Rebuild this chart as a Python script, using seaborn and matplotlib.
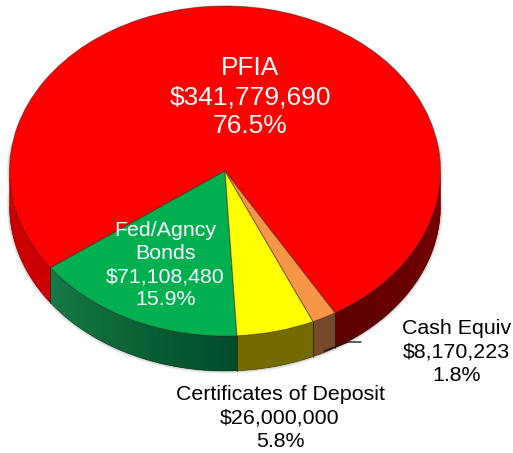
import numpy as np
import seaborn as sns
import matplotlib.pyplot as plt

# holdings
categories = ['PFIA', 'Fed/Agncy\nBonds', 'Certificates of Deposit', 'Cash Equiv']
amounts = [341779690, 71108480, 26000000, 8170223]
amount_labels = ['$341,779,690', '$71,108,480', '$26,000,000', '$8,170,223']
pct_labels = ['76.5%', '15.9%', '5.8%', '1.8%']

top_colors = ['#ff0000', '#00b050', '#ffff00', '#f79646']
wall_colors = [('#cc0000', '#cc0000'), ('#157a46', '#004a28'),
               ('#736a00', '#736a00'), ('#75492a', '#75492a')]
red_right_wall = ('#5c0000', '#7a0000')

# pixel layout of the picture
W, H = 513, 453
CX, CY, RX, RY, DEPTH = 225, 171, 215.5, 165, 35

sns.set_theme(style='white')
plt.rcParams['font.family'] = ['Liberation Sans', 'DejaVu Sans']

fig = plt.figure(figsize=(W / 100, H / 100), dpi=100)
ax = fig.add_axes([0, 0, 1, 1])

wedges, _ = ax.pie(amounts, colors=top_colors, startangle=300.7, radius=1,
                   wedgeprops={'edgecolor': (0.25, 0.1, 0.1, 0.55), 'linewidth': 0.7, 'zorder': 5})
ax.set_aspect('auto')
ax.set_xlim(-CX / RX, (W - CX) / RX)
ax.set_ylim((CY - H) / RY, CY / RY)
ax.axis('off')

dz = DEPTH / RY


def wall_quad(a, b):
    t = np.radians([a, b])
    x = np.cos(t)
    y = np.sin(t)
    return [x[0], x[1], x[1], x[0]], [y[0], y[1], y[1] - dz, y[0] - dz]


# soft shadow below the side wall
for grow, alpha in [(3, 0.05), (2, 0.07), (1, 0.1)]:
    t = np.radians(np.arange(170, 371, 1.0))
    x = np.cos(t) * (1 + grow / RX)
    y = np.sin(t) * (1 + grow / RY) - dz
    ax.fill(np.r_[x, x[::-1]], np.r_[y, np.sin(t[::-1])], color='k', alpha=alpha, lw=0, zorder=1)

# side wall, shaded along each slice
for i, w in enumerate(wedges):
    steps = np.arange(w.theta1, w.theta2, 0.5)
    front = [a for a in steps if np.sin(np.radians(a + 0.25)) < 0]
    for a in front:
        start, end = wall_colors[i]
        if i == 0 and a % 360 > 270:
            start, end = red_right_wall
        ramp = sns.blend_palette([start, end], 41)
        lo, hi = front[0], front[-1] + 0.5
        if i == 0:
            lo, hi = (300.7, 360) if a % 360 > 270 else (180, 216.1)
        pos = (a % 360 - lo) / (hi - lo) if i == 0 else (a - lo) / (hi - lo)
        c = ramp[int(np.clip(pos, 0, 1) * 40)]
        # overlap the next strip so no seams show
        b = a + 1.5
        if b > w.theta2:
            b = w.theta2
        if a % 360 < 360 and (a % 360) + 1.5 > 360:
            b = a + (360 - a % 360)
        xs, ys = wall_quad(a, b)
        ax.fill(xs, ys, color=c, lw=0, zorder=2)
    # dark seam where the slice starts on the wall
    for a in (w.theta1, w.theta2):
        if np.sin(np.radians(a)) < 0:
            xa, ya = np.cos(np.radians(a)), np.sin(np.radians(a))
            ax.plot([xa, xa], [ya, ya - dz], color='#2a1a10', lw=0.6, alpha=0.6, zorder=3)

# outline at the bottom of the wall
t = np.radians(np.arange(180, 360.5, 0.5))
ax.plot(np.cos(t), np.sin(t) - dz, color='#301010', lw=0.5, alpha=0.4, zorder=3)


def to_x(px):
    return (px - CX) / RX


def to_y(py):
    return (CY - py) / RY


# labels
label_pos = [(250.5, 97), (165.5, 265), (280, 418), (456.5, 352)]
label_size = [19, 15.4, 15.4, 15.4]
label_space = [1.27, 1.27, 1.3, 1.27]
label_color = ['white', 'white', 'black', 'black']
for i, name in enumerate(categories):
    ax.text(to_x(label_pos[i][0]), to_y(label_pos[i][1]),
            name + '\n' + amount_labels[i] + '\n' + pct_labels[i],
            ha='center', va='center', multialignment='center', color=label_color[i],
            fontsize=label_size[i], linespacing=label_space[i], zorder=8)

# leader line for cash
ax.plot([to_x(324), to_x(348), to_x(361)], [to_y(351), to_y(342), to_y(342)], color='k', lw=1, zorder=6)

fig.savefig('out.png', dpi=100)
